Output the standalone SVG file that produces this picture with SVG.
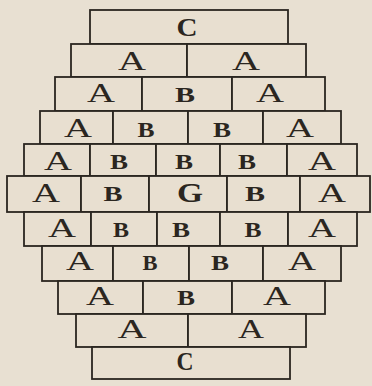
<svg xmlns="http://www.w3.org/2000/svg" width="372" height="386" viewBox="0 0 372 386">
<style>
.b{fill:#e8dfd0;stroke:#2b2620;stroke-width:1.8}
.t{font-family:"Liberation Serif","Times New Roman",serif;fill:#2b2620;text-anchor:middle}
.a{font-size:27px}
.s{font-size:20px;font-weight:bold}
.g{font-size:27px;font-weight:bold}
.c{font-size:25px;font-weight:bold}
</style>
<rect width="372" height="386" fill="#e8e0d2"/>
<g id="r1c1"><rect class="b" x="90" y="10" width="198" height="34"/><text class="t c" x="187" y="36" textLength="21" lengthAdjust="spacingAndGlyphs">C</text></g>
<g id="r2c1"><rect class="b" x="71" y="44" width="116" height="33"/><text class="t a" x="132" y="70" textLength="28" lengthAdjust="spacingAndGlyphs">A</text></g>
<g id="r2c2"><rect class="b" x="187" y="44" width="119" height="33"/><text class="t a" x="246" y="70" textLength="28" lengthAdjust="spacingAndGlyphs">A</text></g>
<g id="r3c1"><rect class="b" x="55" y="77" width="87" height="34"/><text class="t a" x="101" y="102" textLength="28" lengthAdjust="spacingAndGlyphs">A</text></g>
<g id="r3c2"><rect class="b" x="142" y="77" width="90" height="34"/><text class="t s" x="185" y="102" textLength="20" lengthAdjust="spacingAndGlyphs">B</text></g>
<g id="r3c3"><rect class="b" x="232" y="77" width="93" height="34"/><text class="t a" x="270" y="102" textLength="28" lengthAdjust="spacingAndGlyphs">A</text></g>
<g id="r4c1"><rect class="b" x="40" y="111" width="73" height="33"/><text class="t a" x="78" y="137" textLength="28" lengthAdjust="spacingAndGlyphs">A</text></g>
<g id="r4c2"><rect class="b" x="113" y="111" width="75" height="33"/><text class="t s" x="146" y="137" textLength="17" lengthAdjust="spacingAndGlyphs">B</text></g>
<g id="r4c3"><rect class="b" x="188" y="111" width="75" height="33"/><text class="t s" x="222" y="137" textLength="18" lengthAdjust="spacingAndGlyphs">B</text></g>
<g id="r4c4"><rect class="b" x="263" y="111" width="78" height="33"/><text class="t a" x="300" y="137" textLength="28" lengthAdjust="spacingAndGlyphs">A</text></g>
<g id="r5c1"><rect class="b" x="24" y="144" width="66" height="32"/><text class="t a" x="58" y="170" textLength="28" lengthAdjust="spacingAndGlyphs">A</text></g>
<g id="r5c2"><rect class="b" x="90" y="144" width="66" height="32"/><text class="t s" x="119" y="169" textLength="18" lengthAdjust="spacingAndGlyphs">B</text></g>
<g id="r5c3"><rect class="b" x="156" y="144" width="64" height="32"/><text class="t s" x="184" y="169" textLength="18" lengthAdjust="spacingAndGlyphs">B</text></g>
<g id="r5c4"><rect class="b" x="220" y="144" width="67" height="32"/><text class="t s" x="247" y="169" textLength="18" lengthAdjust="spacingAndGlyphs">B</text></g>
<g id="r5c5"><rect class="b" x="287" y="144" width="70" height="32"/><text class="t a" x="322" y="170" textLength="28" lengthAdjust="spacingAndGlyphs">A</text></g>
<g id="r6c1"><rect class="b" x="7" y="176" width="74" height="36"/><text class="t a" x="46" y="202" textLength="28" lengthAdjust="spacingAndGlyphs">A</text></g>
<g id="r6c2"><rect class="b" x="81" y="176" width="68" height="36"/><text class="t s" x="113" y="201" textLength="19" lengthAdjust="spacingAndGlyphs">B</text></g>
<g id="r6c3"><rect class="b" x="149" y="176" width="78" height="36"/><text class="t g" x="190" y="202" textLength="26" lengthAdjust="spacingAndGlyphs">G</text></g>
<g id="r6c4"><rect class="b" x="227" y="176" width="73" height="36"/><text class="t s" x="255" y="201" textLength="20" lengthAdjust="spacingAndGlyphs">B</text></g>
<g id="r6c5"><rect class="b" x="300" y="176" width="70" height="36"/><text class="t a" x="332" y="202" textLength="28" lengthAdjust="spacingAndGlyphs">A</text></g>
<g id="r7c1"><rect class="b" x="24" y="212" width="67" height="34"/><text class="t a" x="62" y="237" textLength="28" lengthAdjust="spacingAndGlyphs">A</text></g>
<g id="r7c2"><rect class="b" x="91" y="212" width="66" height="34"/><text class="t s" x="121" y="237" textLength="16" lengthAdjust="spacingAndGlyphs">B</text></g>
<g id="r7c3"><rect class="b" x="157" y="212" width="63" height="34"/><text class="t s" x="181" y="237" textLength="18" lengthAdjust="spacingAndGlyphs">B</text></g>
<g id="r7c4"><rect class="b" x="220" y="212" width="68" height="34"/><text class="t s" x="253" y="237" textLength="17" lengthAdjust="spacingAndGlyphs">B</text></g>
<g id="r7c5"><rect class="b" x="288" y="212" width="69" height="34"/><text class="t a" x="322" y="237" textLength="28" lengthAdjust="spacingAndGlyphs">A</text></g>
<g id="r8c1"><rect class="b" x="42" y="246" width="71" height="35"/><text class="t a" x="80" y="270" textLength="28" lengthAdjust="spacingAndGlyphs">A</text></g>
<g id="r8c2"><rect class="b" x="113" y="246" width="76" height="35"/><text class="t s" x="150" y="270" textLength="15" lengthAdjust="spacingAndGlyphs">B</text></g>
<g id="r8c3"><rect class="b" x="189" y="246" width="74" height="35"/><text class="t s" x="220" y="270" textLength="18" lengthAdjust="spacingAndGlyphs">B</text></g>
<g id="r8c4"><rect class="b" x="263" y="246" width="78" height="35"/><text class="t a" x="302" y="270" textLength="28" lengthAdjust="spacingAndGlyphs">A</text></g>
<g id="r9c1"><rect class="b" x="58" y="281" width="85" height="33"/><text class="t a" x="100" y="305" textLength="28" lengthAdjust="spacingAndGlyphs">A</text></g>
<g id="r9c2"><rect class="b" x="143" y="281" width="89" height="33"/><text class="t s" x="186" y="305" textLength="18" lengthAdjust="spacingAndGlyphs">B</text></g>
<g id="r9c3"><rect class="b" x="232" y="281" width="93" height="33"/><text class="t a" x="277" y="305" textLength="28" lengthAdjust="spacingAndGlyphs">A</text></g>
<g id="r10c1"><rect class="b" x="76" y="314" width="112" height="33"/><text class="t a" x="132" y="338" textLength="29" lengthAdjust="spacingAndGlyphs">A</text></g>
<g id="r10c2"><rect class="b" x="188" y="314" width="118" height="33"/><text class="t a" x="251" y="338" textLength="26" lengthAdjust="spacingAndGlyphs">A</text></g>
<g id="r11c1"><rect class="b" x="92" y="347" width="198" height="32"/><text class="t c" x="185" y="370" textLength="17" lengthAdjust="spacingAndGlyphs">C</text></g>
<g id="connectors"/>
</svg>
